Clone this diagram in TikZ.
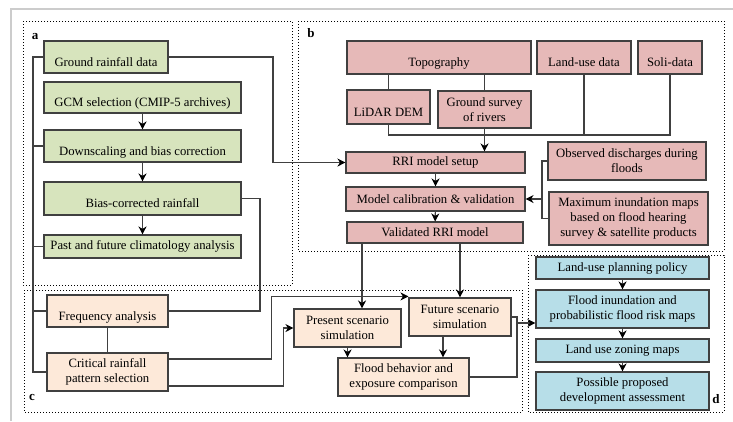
\documentclass[tikz,border=0pt]{standalone}
\usepackage{fontspec}
\setmainfont{Liberation Serif}
\usetikzlibrary{arrows.meta}
\usetikzlibrary{calc}
\usepackage{xcolor}

\definecolor{fillgreen}{HTML}{D7E4BD}
\definecolor{fillpink}{HTML}{E6B9B8}
\definecolor{fillpeach}{HTML}{FDE9D9}
\definecolor{fillblue}{HTML}{B7DEE8}
\definecolor{edgegray}{HTML}{404040}
\definecolor{framegray}{HTML}{CCCCCC}

\tikzset{
  box/.style={draw=edgegray, line width=1.1pt, inner sep=0pt, align=center,
    font=\fontsize{12.7}{15}\selectfont, text=black},
  boxa/.style={box, fill=fillgreen},
  boxb/.style={box, fill=fillpink},
  boxc/.style={box, fill=fillpeach},
  boxd/.style={box, fill=fillblue},
  low/.style={text height=21pt, text depth=3pt},
  conn/.style={draw=edgegray, line width=1.1pt},
  arr/.style={conn, -{Stealth[length=8pt,width=8pt,inset=2.5pt,black]}},
  panel/.style={dotted, line width=1pt},
  tag/.style={font=\fontsize{13}{15}\selectfont\bfseries}
}

\begin{document}
\begin{tikzpicture}[x=1pt, y=-1pt]

        \useasboundingbox (0,0) rectangle (733,421);

        % Frame
        \draw[framegray, line width=1.5pt] (11,421) -- (11,9) -- (733,9);

        % Panels
        \draw[panel] (23,21) rectangle (292,285);
        \draw[panel] (298,21) rectangle (724,251);
        \draw[panel] (24,290) rectangle (522,412);
        \draw[panel] (528,255) rectangle (724,412);
        \node[tag] (ta) at (35,37) {a};
        \node[tag] (tb) at (311,33) {b};
        \node[tag] (tc) at (32,397) {c};
        \node[tag] (td) at (716,399) {d};

        % Panel a
        \node[boxa, low, minimum width=124pt, minimum height=32pt] (gr) at (106,57) {Ground rainfall data};
        \node[boxa, low, minimum width=197pt, minimum height=31pt] (gcm) at (142.5,97.5) {GCM selection (CMIP-5 archives)};
        \node[boxa, low, minimum width=197pt, minimum height=32pt] (down) at (142.5,146) {Downscaling and bias correction};
        \node[boxa, low, minimum width=197pt, minimum height=33pt] (bias) at (142.5,198.5) {Bias-corrected rainfall};
        \node[boxa, minimum width=197pt, minimum height=23pt] (past) at (142.5,246.5) {Past and future climatology analysis};

        % Panel b
        \node[boxb, low, minimum width=184pt, minimum height=33pt] (topo) at (439,57.5) {Topography};
        \node[boxb, low, minimum width=94pt, minimum height=33pt] (land) at (584,57.5) {Land-use data};
        \node[boxb, low, minimum width=64pt, minimum height=33pt] (soil) at (670,57.5) {Soli-data};
        \node[boxb, low, minimum width=83pt, minimum height=34pt] (lidar) at (388.5,107) {LiDAR DEM};
        \node[boxb, minimum width=93pt, minimum height=37pt] (survey) at (484.5,109.5) {Ground survey\\of rivers};
        \node[boxb, minimum width=179pt, minimum height=21pt] (rri) at (435.5,162.5) {RRI model setup};
        \node[boxb, minimum width=179pt, minimum height=24pt] (calib) at (435.5,199) {Model calibration \& validation};
        \node[boxb, minimum width=176pt, minimum height=21pt] (valid) at (435,232.5) {Validated RRI model};
        \node[boxb, minimum width=158pt, minimum height=38pt] (obs) at (627,161) {Observed discharges during\\floods};
        \node[boxb, minimum width=159pt, minimum height=53pt] (maxi) at (628.5,218.5) {Maximum inundation maps\\based on flood hearing\\survey \& satellite products};

        % Panel c
        \node[boxc, low, minimum width=121pt, minimum height=32pt] (freq) at (107.5,311) {Frequency analysis};
        \node[boxc, minimum width=121pt, minimum height=38pt] (crit) at (107.5,372) {Critical rainfall\\pattern selection};
        \node[boxc, minimum width=107pt, minimum height=38pt] (pres) at (347.5,328) {Present scenario\\simulation};
        \node[boxc, minimum width=102pt, minimum height=38pt] (fut) at (460,317) {Future scenario\\simulation};
        \node[boxc, minimum width=131pt, minimum height=38pt] (fbeh) at (403.5,377) {Flood behavior and\\exposure comparison};

        % Panel d
        \node[boxd, minimum width=173pt, minimum height=22pt] (pol) at (622.5,268) {Land-use planning policy};
        \node[boxd, minimum width=173pt, minimum height=38pt] (finu) at (622.5,309) {Flood inundation and\\probabilistic flood risk maps};
        \node[boxd, minimum width=173pt, minimum height=23pt] (zone) at (622.5,350.5) {Land use zoning maps};
        \node[boxd, minimum width=173pt, minimum height=38pt] (poss) at (622.5,391) {Possible proposed\\development assessment};

        % Bus lines
        \coordinate (bus) at (33,0);
        \coordinate (ga) at (273,0);
        \coordinate (gb) at (260,0);
        \coordinate (hb) at (0,135);
        \coordinate (br) at (542,0);
        \coordinate (v1) at (362,0);
        \coordinate (v2) at (443,0);
        \coordinate (dj) at (517,0);
        \coordinate (fa) at ($(finu.west)+(0,14)$);

        % Panel a links
        \draw[conn] (gr.west) -- (gr.west -| bus) -- (crit.west -| bus) -- (crit.west);
        \foreach \n in {down,past,freq}
        {
          \draw[conn] (\n.west) -- (\n.west -| bus);
        }
        \draw[arr] (gcm) -- (down);
        \draw[arr] (down) -- (bias);
        \draw[arr] (bias) -- (past);
        \draw[arr] (gr.east) -- (gr.east -| ga) -- (rri.west -| ga) -- (rri.west);
        \draw[conn] (bias.east) -- (bias.east -| gb) -- (freq.east -| gb) -- (freq.east);

        % Panel b links
        \draw[conn] (topo.south -| lidar.north) -- (lidar.north);
        \draw[conn] (topo.south -| survey.north) -- (survey.north);
        \draw[conn] (lidar.south) -- (lidar.south |- hb) -- (soil.south |- hb) -- (soil.south);
        \draw[conn] (land.south) -- (land.south |- hb);
        \draw[arr] (survey.south) -- (survey.south |- rri.north);
        \draw[arr] (rri) -- (calib);
        \draw[arr] (calib) -- (valid);
        \draw[conn] (obs.west) -- (obs.west -| br) -- (maxi.west -| br) -- (maxi.west);
        \draw[arr] (calib.east -| br) -- (calib.east);

        % Panel c links
        \draw[arr] (valid.south -| v1) -- (pres.north -| v1);
        \draw[arr] (valid.south -| fut.north) -- (fut.north);
        \draw[conn] (freq) -- (crit);
        \draw[arr] ($(crit.east)+(0,-13)$) -| ($(fut.north west)+(-137,-1)$) -- ($(fut.north west)+(0,-1)$);
        \draw[arr] ($(crit.east)+(0,14)$) -| ($(pres.west)+(-10,0)$) -- (pres.west);
        \draw[arr] (pres.south) -- (pres.south |- fbeh.north);
        \draw[arr] (fut.south -| v2) -- (fbeh.north -| v2);
        \draw[conn] (fut.east) -- (fut.east -| dj) -- (fbeh.east -| dj) -- (fbeh.east);
        \draw[arr] (fa -| dj) -- (fa);

        % Panel d links
        \draw[arr] (pol) -- (finu);
        \draw[arr] (finu) -- (zone);
        \draw[arr] (zone) -- (poss);
    \end{tikzpicture}
\end{document}
